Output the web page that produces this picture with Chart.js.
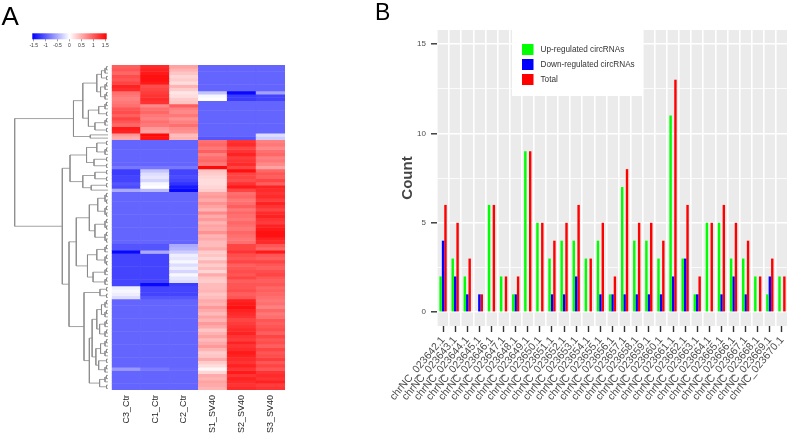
<!DOCTYPE html>
<html>
<head>
    <meta charset="UTF-8">
    <title>circRNA heatmap and counts</title>
    <script src="https://cdn.jsdelivr.net/npm/chart.js"></script>
    <style>
        body { margin: 0; background: #fff; font-family: "Liberation Sans", Arial, sans-serif; }
        #fig { position: relative; width: 789px; height: 437px; overflow: hidden; }
        #fig canvas { position: absolute; }
        .tag { position: absolute; line-height: 1; color: #000; }
    </style>
</head>
<body>
<div id="fig">
    <canvas id="keyChart" width="140" height="60" style="left:0;top:0"></canvas>
    <canvas id="treeChart" width="112" height="345" style="left:0;top:55px"></canvas>
    <canvas id="heatChart" width="200" height="382" style="left:100px;top:55px"></canvas>
    <canvas id="barChart" width="419" height="437" style="left:370px;top:0"></canvas>
    <div class="tag" style="left:1.5px;top:2.6px;font-size:26px">A</div>
    <div class="tag" style="left:375px;top:1px;font-size:23px">B</div>
</div>

<script>
// ---- panel A: heatmap (row z-scores), one array per sample column ----
const sampleNames = ['C3_Ctr', 'C1_Ctr', 'C2_Ctr', 'S1_SV40', 'S2_SV40', 'S3_SV40'];
const keyTicks = [-1.5, -1, -0.5, 0, 0.5, 1, 1.5];

const c3Ctr = [
    0.95, 1.0, 0.9, 1.05, 1.0, 1.1, 1.3, 1.25, 0.85, 0.8,
    0.75, 0.8, 0.85, 1.0, 1.05, 0.95, 1.1, 1.0, 0.9, 1.35,
    1.3, 0.6, 0.5, -0.91, -0.91, -0.91, -0.91, -0.91, -0.91, -0.91,
    -0.91, -0.8, -1.15, -1.15, -1.1, -1.1, -1.0, -1.05, -0.5, -0.91,
    -0.91, -0.91, -0.91, -0.91, -0.91, -0.91, -0.91, -0.91, -0.91, -0.91,
    -0.91, -0.91, -0.91, -0.91, -0.91, -1.0, -1.0, -1.45, -1.1, -1.1,
    -1.1, -1.1, -1.1, -1.1, -1.1, -1.1, -1.1, -1.1, -0.1, -0.05,
    -0.1, -0.2, -0.91, -0.91, -0.91, -0.91, -0.91, -0.91, -0.91, -0.91,
    -0.91, -0.91, -0.91, -0.91, -0.91, -0.91, -0.91, -0.91, -0.91, -0.91,
    -0.91, -0.91, -0.91, -0.6, -0.91, -0.91, -0.91, -0.91, -0.91, -0.91
];
const c1Ctr = [
    1.25, 1.3, 1.35, 1.4, 1.4, 1.35, 1.05, 1.1, 1.15, 1.2,
    1.25, 1.2, 0.7, 0.85, 0.9, 0.8, 0.75, 0.85, 0.8, 0.6,
    0.55, 1.45, 1.4, -0.91, -0.91, -0.91, -0.91, -0.91, -0.91, -0.91,
    -0.91, -0.8, -0.35, -0.2, -0.15, -0.25, -0.05, 0.0, -0.4, -0.91,
    -0.91, -0.91, -0.91, -0.91, -0.91, -0.91, -0.91, -0.91, -0.91, -0.91,
    -0.91, -0.91, -0.91, -0.91, -0.91, -1.0, -1.0, -0.5, -1.1, -1.1,
    -1.1, -1.1, -1.1, -1.1, -1.1, -1.1, -1.1, -1.45, -1.1, -1.1,
    -1.1, -1.0, -0.91, -0.91, -0.91, -0.91, -0.91, -0.91, -0.91, -0.91,
    -0.91, -0.91, -0.91, -0.91, -0.91, -0.91, -0.91, -0.91, -0.91, -0.91,
    -0.91, -0.91, -0.91, -0.8, -0.91, -0.91, -0.91, -0.91, -0.91, -0.91
];
const c2Ctr = [
    0.55, 0.45, 0.35, 0.25, 0.3, 0.2, 0.45, 0.3, 0.15, 0.2,
    0.3, 0.35, 0.95, 0.75, 0.7, 0.8, 0.65, 0.75, 0.85, 0.7,
    0.65, 0.4, 0.45, -0.91, -0.91, -0.91, -0.91, -0.91, -0.91, -0.91,
    -0.91, -0.8, -1.1, -1.1, -1.05, -1.1, -1.2, -1.35, -1.45, -0.91,
    -0.91, -0.91, -0.91, -0.91, -0.91, -0.91, -0.91, -0.91, -0.91, -0.91,
    -0.91, -0.91, -0.91, -0.91, -0.91, -0.5, -0.45, -0.3, -0.1, -0.15,
    -0.05, -0.2, -0.1, -0.25, -0.05, -0.15, -0.2, -1.15, -1.1, -1.1,
    -1.1, -1.0, -0.91, -0.91, -0.91, -0.91, -0.91, -0.91, -0.91, -0.91,
    -0.91, -0.91, -0.91, -0.91, -0.91, -0.91, -0.91, -0.91, -0.91, -0.91,
    -0.91, -0.91, -0.91, -0.88, -0.91, -0.91, -0.91, -0.91, -0.91, -0.91
];
const s1SV40 = [
    -0.91, -0.91, -0.91, -0.91, -0.91, -0.91, -0.91, -0.91, -0.35, -0.05,
    0.0, -0.91, -0.91, -0.91, -0.91, -0.91, -0.91, -0.91, -0.91, -0.91,
    -0.91, -0.91, -1.0, 0.85, 0.9, 0.8, 0.95, 0.75, 0.85, 0.9,
    0.8, 1.45, 0.35, 0.3, 0.25, 0.2, 0.2, 0.25, 0.3, 0.55,
    0.6, 0.5, 0.65, 0.55, 0.45, 0.7, 0.5, 0.6, 0.45, 0.55,
    0.5, 0.65, 0.45, 0.5, 0.4, 0.4, 0.5, 0.3, 0.35, 0.25,
    0.45, 0.3, 0.4, 0.25, 0.5, 0.35, 0.3, 0.4, 0.4, 0.45,
    0.35, 0.4, 0.5, 0.45, 0.6, 0.5, 0.4, 0.55, 0.45, 0.6,
    0.5, 0.35, 0.45, 0.55, 0.4, 0.5, 0.6, 0.45, 0.3, 0.35,
    0.5, 0.3, 0.2, 0.05, 0.25, 0.5, 0.45, 0.55, 0.5, 0.45
];
const s2SV40 = [
    -0.91, -0.91, -0.91, -0.91, -0.91, -0.91, -0.91, -0.91, -1.45, -1.15,
    -1.15, -0.91, -0.91, -0.91, -0.91, -0.91, -0.91, -0.91, -0.91, -0.91,
    -0.91, -0.91, -1.0, 1.2, 1.25, 1.1, 1.2, 1.3, 1.15, 1.2,
    1.25, 1.1, 1.4, 1.1, 1.1, 1.05, 1.2, 1.35, 1.1, 0.85,
    0.9, 0.8, 0.85, 0.95, 0.8, 0.9, 0.85, 0.8, 0.9, 0.85,
    0.8, 0.9, 0.85, 0.8, 0.85, 1.1, 1.1, 1.2, 1.05, 1.0,
    1.1, 0.95, 1.0, 1.05, 1.0, 1.1, 0.95, 1.0, 1.0, 1.05,
    0.95, 1.0, 1.3, 1.35, 1.4, 1.3, 1.25, 1.2, 1.1, 1.15,
    1.2, 1.25, 1.3, 1.2, 1.15, 1.3, 1.2, 1.25, 1.35, 1.3,
    1.25, 1.2, 1.3, 1.2, 1.35, 1.2, 1.3, 1.25, 1.2, 1.25
];
const s3SV40 = [
    -0.91, -0.91, -0.91, -0.91, -0.91, -0.91, -0.91, -0.91, -0.55, -1.1,
    -1.1, -0.91, -0.91, -0.91, -0.91, -0.91, -0.91, -0.91, -0.91, -0.91,
    -0.91, -0.2, -0.3, 0.75, 0.8, 0.7, 0.85, 0.9, 0.75, 0.8,
    0.7, 0.55, 0.9, 1.0, 0.95, 1.1, 0.95, 1.3, 1.25, 1.2,
    1.25, 1.15, 1.3, 1.2, 1.1, 1.25, 1.3, 1.2, 1.15, 1.3,
    1.35, 1.4, 1.4, 1.3, 1.25, 1.0, 0.9, 1.35, 1.0, 0.95,
    1.1, 1.0, 0.95, 1.05, 1.1, 1.0, 0.95, 1.0, 0.9, 0.95,
    0.9, 0.85, 0.8, 0.85, 0.75, 0.9, 0.8, 0.85, 1.0, 0.95,
    1.0, 1.05, 0.95, 1.1, 1.0, 1.05, 0.95, 1.1, 1.0, 1.05,
    1.15, 1.0, 1.1, 1.0, 1.2, 1.25, 1.2, 1.3, 1.15, 1.2
];

// row dendrogram: [merge height, left, right]; a bare number is a small leaf group
const dendroTree = [100,
    [37, [27, [12, [7, 3, 2], [8, 3, 3]], [21, [10, 3, 2], [14, 3, 2]]], [19, 1, 1]],
    [49,
        [40.7, [23, [12, 2, 3], [15, 2, 2]], [27, [14, 2, 2], [18, 2, 1]]],
        [41.8,
            [34, [20, [11, 4, 4], [14, 4, 4]], [22, [12, 3, 4], [16, 3, 3]]],
            [25.7, [8.6, 2, 2], [20, [17, [12, [7, 3, 3], [9, 3, 3]], [13, [8, 3, 3], [10, 2, 3]]], [9, 3, 2]]]
        ]
    ]
];

// ---- panel B: counts per circRNA ----
const circIds = [
    'chrNC_023642.1', 'chrNC_023643.1', 'chrNC_023644.1', 'chrNC_023645.1', 'chrNC_023646.1',
    'chrNC_023647.1', 'chrNC_023648.1', 'chrNC_023649.1', 'chrNC_023650.1', 'chrNC_023651.1',
    'chrNC_023652.1', 'chrNC_023653.1', 'chrNC_023654.1', 'chrNC_023655.1', 'chrNC_023656.1',
    'chrNC_023657.1', 'chrNC_023658.1', 'chrNC_023659.1', 'chrNC_023660.1', 'chrNC_023661.1',
    'chrNC_023662.1', 'chrNC_023663.1', 'chrNC_023664.1', 'chrNC_023665.1', 'chrNC_023666.1',
    'chrNC_023667.1', 'chrNC_023668.1', 'chrNC_023669.1', 'chrNC_023670.1'
];
const upReg   = [2, 3, 2, 0, 6, 2, 1, 9, 5, 3, 4, 4, 3, 4, 1, 7, 4, 4, 3, 11, 3, 1, 5, 5, 3, 3, 2, 1, 2];
const downReg = [4, 2, 1, 1, 0, 0, 1, 0, 0, 1, 1, 2, 0, 1, 1, 1, 1, 1, 1, 2, 3, 1, 0, 1, 2, 1, 0, 2, 0];
const totals  = [6, 5, 3, 1, 6, 2, 2, 9, 5, 4, 5, 6, 3, 5, 2, 8, 5, 5, 4, 13, 6, 2, 5, 6, 5, 4, 2, 3, 2];
const countTicks = [0, 2.5, 5, 7.5, 10, 12.5, 15];

Chart.defaults.font.family = '"Liberation Sans", Arial, sans-serif';
Chart.defaults.animation = false;

// blue - white - red scale for z-scores
function zColor(v) {
    const t = Math.min(Math.abs(v) / 1.5, 1);
    const c = Math.round(255 * (1 - t));
    return v < 0 ? `rgb(${c},${c},255)` : `rgb(255,${c},${c})`;
}

// colour key
const keyGradient = {
    id: 'keyGradient',
    beforeDatasetsDraw(chart) {
        const {ctx, chartArea: a} = chart;
        const g = ctx.createLinearGradient(a.left, 0, a.right, 0);
        g.addColorStop(0, zColor(keyTicks[0]));
        g.addColorStop(0.5, zColor(0));
        g.addColorStop(1, zColor(keyTicks[keyTicks.length - 1]));
        ctx.fillStyle = g;
        ctx.fillRect(a.left, a.top, a.width, a.height);
    }
};
new Chart(document.getElementById('keyChart'), {
    type: 'scatter',
    data: { datasets: [] },
    options: {
        responsive: false,
        layout: { padding: { left: 32.3, right: 33.3, top: 33.3, bottom: 8.7 } },
        plugins: { legend: { display: false }, tooltip: { enabled: false } },
        scales: {
            x: {
                type: 'linear', min: -1.56, max: 1.56,
                afterBuildTicks: s => { s.ticks = keyTicks.map(v => ({ value: v })); },
                afterFit: s => { s.height = 12; },
                grid: { drawOnChartArea: false, tickLength: 2, tickColor: '#555', tickWidth: 0.6 },
                border: { display: false },
                ticks: { autoSkip: false, maxRotation: 0, padding: 1, color: '#333', font: { size: 5 },
                         callback: v => String(v) }
            },
            y: { display: false, min: 0, max: 1 }
        }
    },
    plugins: [keyGradient]
});

// dendrogram
const treeSegs = [];
function leafGroup(n, start) {
    if (n === 1) return { y: start + 0.5, h: 0, next: start + 1 };
    const k = Math.ceil(n / 2);
    const a = leafGroup(k, start);
    const b = leafGroup(n - k, a.next);
    const h = 1.6 * Math.ceil(Math.log2(n));
    treeSegs.push([{x: a.h, y: a.y}, {x: h, y: a.y}, {x: h, y: b.y}, {x: b.h, y: b.y}]);
    return { y: (a.y + b.y) / 2, h: h, next: b.next };
}
function place(node, start) {
    if (typeof node === 'number') return leafGroup(node, start);
    const [h, left, right] = node;
    const a = place(left, start);
    const b = place(right, a.next);
    treeSegs.push([{x: a.h, y: a.y}, {x: h, y: a.y}, {x: h, y: b.y}, {x: b.h, y: b.y}]);
    return { y: (a.y + b.y) / 2, h: h, next: b.next };
}
place(dendroTree, 0);

new Chart(document.getElementById('treeChart'), {
    type: 'scatter',
    data: {
        datasets: treeSegs.map(seg => ({
            data: seg, showLine: true, clip: false,
            borderColor: '#8a8a8a', borderWidth: 0.8, pointRadius: 0
        }))
    },
    options: {
        responsive: false,
        layout: { padding: { left: 14.7, right: 4, top: 10, bottom: 10 } },
        plugins: { legend: { display: false }, tooltip: { enabled: false } },
        scales: {
            x: { type: 'linear', min: 0, max: 100, reverse: true, display: false },
            y: { type: 'linear', min: 0, max: c3Ctr.length, reverse: true, display: false }
        }
    }
});

// heatmap: each row is a dataset of floating bars [r, r+1]
const columns = [c3Ctr, c1Ctr, c2Ctr, s1SV40, s2SV40, s3SV40];
const heatSets = c3Ctr.map((_, r) => ({
    data: columns.map(() => [r, r + 1]),
    backgroundColor: columns.map(col => zColor(col[r])),
    borderWidth: 0,
    grouped: false,
    categoryPercentage: 1,
    barPercentage: 1
}));

new Chart(document.getElementById('heatChart'), {
    type: 'bar',
    data: { labels: sampleNames, datasets: heatSets },
    options: {
        responsive: false,
        layout: { padding: { left: 11.7, right: 15, top: 10, bottom: 0 } },
        plugins: { legend: { display: false }, tooltip: { enabled: false } },
        scales: {
            x: {
                grid: { display: false, drawTicks: false },
                border: { display: false },
                ticks: { autoSkip: false, minRotation: 90, maxRotation: 90, padding: 5, color: '#262626', font: { size: 9 } },
                afterFit: s => { s.height = 47; s.paddingLeft = 0; s.paddingRight = 0; }
            },
            y: { min: 0, max: c3Ctr.length, reverse: true, display: false }
        }
    }
});

// ---- panel B ----
const panelBg = {
    id: 'panelBg',
    beforeDraw(chart) {
        const {ctx, chartArea: a} = chart;
        ctx.save();
        ctx.fillStyle = '#ebebeb';
        ctx.fillRect(a.left, a.top, a.width, a.height);
        ctx.restore();
    }
};
const insetLegend = {
    id: 'insetLegend',
    afterDatasetsDraw(chart) {
        const {ctx, chartArea} = chart;
        const x0 = chartArea.left + 75, y0 = chartArea.top;
        ctx.save();
        ctx.fillStyle = '#fff';
        ctx.fillRect(x0, y0, 131, 66);
        ctx.font = '8.2px "Liberation Sans", Arial, sans-serif';
        ctx.textBaseline = 'middle';
        chart.data.datasets.forEach((ds, i) => {
            const ky = y0 + 14 + i * 15;
            ctx.fillStyle = ds.backgroundColor;
            ctx.fillRect(x0 + 10, ky, 11.5, 11);
            ctx.fillStyle = '#333';
            ctx.fillText(ds.label, x0 + 28.5, ky + 5.5);
        });
        ctx.restore();
    }
};

new Chart(document.getElementById('barChart'), {
    type: 'bar',
    data: {
        labels: circIds,
        datasets: [
            { label: 'Up-regulated circRNAs', data: upReg, backgroundColor: '#00ff00' },
            { label: 'Down-regulated circRNAs', data: downReg, backgroundColor: '#0000ff' },
            { label: 'Total', data: totals, backgroundColor: '#ff0000' }
        ]
    },
    options: {
        responsive: false,
        categoryPercentage: 0.6,
        barPercentage: 1,
        layout: { padding: { top: 30, right: 1, left: 0, bottom: 0 } },
        plugins: { legend: { display: false }, tooltip: { enabled: false } },
        scales: {
            x: {
                offset: true,
                grid: { offset: false, drawOnChartArea: false, tickColor: '#333', tickWidth: 1.4, tickLength: 6 },
                border: { display: false },
                ticks: { autoSkip: false, minRotation: 50, maxRotation: 50, padding: 2, color: '#4d4d4d', font: { size: 10.5 } },
                afterFit: s => { s.height = 111; s.paddingLeft = 0; s.paddingRight = 0; }
            },
            x2: {
                type: 'category', labels: circIds, position: 'bottom', offset: true,
                grid: { offset: true, color: '#fff', lineWidth: 1.6, drawTicks: false },
                border: { display: false },
                ticks: { display: false },
                afterFit: s => { s.height = 0; s.paddingLeft = 0; s.paddingRight = 0; }
            },
            y: {
                min: -0.77, max: 15.78,
                afterBuildTicks: s => { s.ticks = countTicks.map(v => ({ value: v })); },
                grid: {
                    color: '#fff',
                    lineWidth: c => (c.tick && c.tick.value % 5 === 0) ? 1.6 : 0.8,
                    tickColor: c => (c.tick && c.tick.value % 5 === 0) ? '#333' : 'rgba(0,0,0,0)',
                    tickLength: 6, tickWidth: 1.4
                },
                border: { display: false },
                ticks: { padding: 5, color: '#4d4d4d', font: { size: 8 }, callback: v => (v % 5 === 0 ? v : '') },
                title: { display: true, text: 'Count', color: '#444', font: { size: 15, weight: 'bold' }, padding: { top: 29, bottom: 0 } },
                afterFit: s => { s.width = 67; }
            }
        }
    },
    plugins: [panelBg, insetLegend]
});
</script>
</body>
</html>
